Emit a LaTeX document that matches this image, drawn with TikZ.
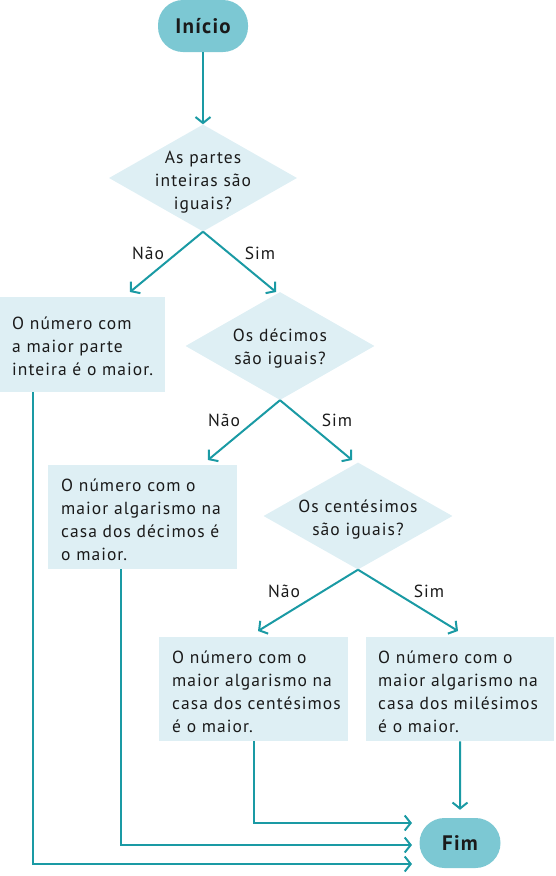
\documentclass[tikz,border=0pt]{standalone}
\usepackage{fontspec}
\setmainfont{PT Sans}[LetterSpace=6]
\usetikzlibrary{arrows.meta,shapes.geometric}
\definecolor{lineC}{HTML}{1A9AA4}
\definecolor{pillC}{HTML}{7CC8D3}
\definecolor{boxC}{HTML}{DEEFF4}
\definecolor{txtC}{HTML}{1A1A1A}
\begin{document}
\begin{tikzpicture}[x=1pt,y=-1pt,
  pillnode/.style={fill=pillC, rounded corners=25pt, font=\fontsize{21}{24}\selectfont\bfseries, text=txtC, inner sep=0pt},
  boxnode/.style={fill=boxC, anchor=north west, inner sep=0pt},
  boxtext/.style={align=left, anchor=west, font=\fontsize{17.5}{23}\selectfont, text=txtC, inner sep=0pt},
  dia/.style={diamond, fill=boxC, inner sep=0pt},
  diatext/.style={align=center, font=\fontsize{17.5}{23}\selectfont, text=txtC},
  conn/.style={draw=lineC, line width=2pt, -{Straight Barb[length=6pt,width=15pt]}},
  lbl/.style={font=\fontsize{17.5}{19}\selectfont, text=txtC}]
\useasboundingbox (0,0) rectangle (555,876);
% terminals
\node[pillnode, minimum width=90pt, minimum height=52pt] (ini) at (203,26) {Início};
\node[pillnode, minimum width=81pt, minimum height=50pt] (fim) at (460,843) {Fim};
% diamonds
\node[dia, minimum width=188pt, minimum height=107pt] (d1) at (203,178) {};
\node[diatext] (t1) at (203,182) {As partes\\inteiras são\\iguais?};
\node[dia, minimum width=189pt, minimum height=108pt] (d2) at (280,346) {};
\node[diatext] (t2) at (280,349) {Os décimos\\são iguais?};
\node[dia, minimum width=189pt, minimum height=107pt] (d3) at (358,516) {};
\node[diatext] (t3) at (358,520) {Os centésimos\\são iguais?};
% boxes
\node[boxnode, minimum width=165pt, minimum height=95pt] (b1) at (0,297) {};
\node[boxtext] (bt1) at ([xshift=12pt,yshift=-2pt]b1.west) {O número com\\a maior parte\\inteira é o maior.};
\node[boxnode, minimum width=189pt, minimum height=104pt] (b2) at (48,465) {};
\node[boxtext] (bt2) at ([xshift=13pt,yshift=-3pt]b2.west) {O número com o\\maior algarismo na\\casa dos décimos é\\o maior.};
\node[boxnode, minimum width=189pt, minimum height=104pt] (b3) at (159,637) {};
\node[boxtext] (bt3) at ([xshift=13pt,yshift=-3pt]b3.west) {O número com o\\maior algarismo na\\casa dos centésimos\\é o maior.};
\node[boxnode, minimum width=188pt, minimum height=104pt] (b4) at (366,637) {};
\node[boxtext] (bt4) at ([xshift=12pt,yshift=-3pt]b4.west) {O número com o\\maior algarismo na\\casa dos milésimos\\é o maior.};
% coordinates
\coordinate (n1) at (130,292);
\coordinate (s1) at (276,292);
\coordinate (n2) at (208,460);
\coordinate (s2) at (352,460);
\coordinate (n3) at (258,631);
\coordinate (s3) at (458,631);
\coordinate (b1o) at (33,392);
\coordinate (b2o) at (121,569);
\coordinate (b3o) at (254,741);
\coordinate (e1) at (412,864);
\coordinate (e2) at (412,845);
\coordinate (e3) at (412,823);
% connectors
\draw[conn] (ini.south) -- (d1.north);
\draw[conn] (d1.south) -- (n1);
\draw[conn] (d1.south) -- (s1);
\draw[conn] (d2.south) -- (n2);
\draw[conn] (d2.south) -- (s2);
\draw[conn] (d3.south) -- (n3);
\draw[conn] (d3.south) -- (s3);
\draw[conn] (b4.south) -- ([yshift=8pt]fim.north);
\draw[conn] (b3o) |- (e3);
\draw[conn] (b2o) |- (e2);
\draw[conn] (b1o) |- (e1);
% labels
\node[lbl] (l1) at (148,253) {Não};
\node[lbl] (l2) at (260,253) {Sim};
\node[lbl] (l3) at (224,420) {Não};
\node[lbl] (l4) at (337,420) {Sim};
\node[lbl] (l5) at (284,591) {Não};
\node[lbl] (l6) at (429,591) {Sim};
\end{tikzpicture}
\end{document}
